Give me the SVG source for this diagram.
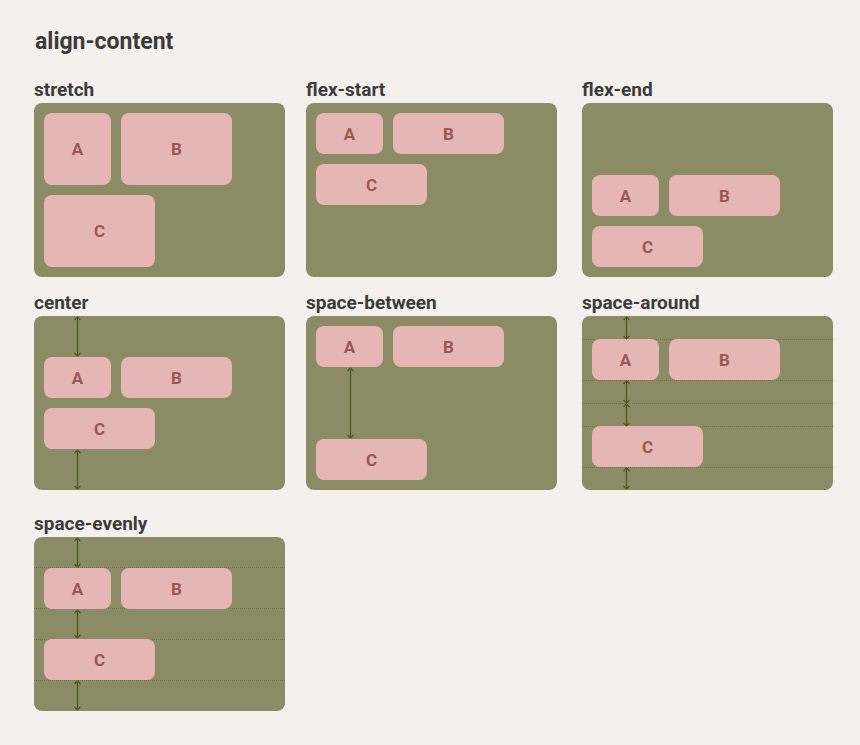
<svg xmlns="http://www.w3.org/2000/svg" width="860" height="745" viewBox="0 0 860 745">
<style>
.bg{fill:#f4f0ed}
.title{font-family:Roboto,"Liberation Sans",sans-serif;font-weight:bold;font-size:23px;fill:#3b3b3b}
.lbl{font-family:Roboto,"Liberation Sans",sans-serif;font-weight:bold;font-size:19px;fill:#3b3b3b}
.panel{fill:#8b8b65}
.item{fill:#e6b6b4}
.it{font-family:Roboto,"Liberation Sans",sans-serif;font-weight:bold;font-size:17px;fill:#9a5852;text-anchor:middle;dominant-baseline:central}
.guide{stroke:#6f744d;stroke-width:1;stroke-dasharray:1 1;fill:none}
.arr{stroke:#4a5720;stroke-width:1.2;fill:none;marker-start:url(#ah);marker-end:url(#ah)}
</style>
<defs>
<marker id="ah" viewBox="0 0 8 8" markerUnits="userSpaceOnUse" markerWidth="8" markerHeight="8" refX="5" refY="4" orient="auto-start-reverse">
<path d="M2,1 L5,4 L2,7" fill="none" stroke="#4a5720" stroke-width="1.2"/>
</marker>
</defs>
<rect class="bg" x="0" y="0" width="860" height="745"/>
<text class="title" x="35" y="49">align-content</text>

<g id="stretch">
<text class="lbl" x="34" y="96">stretch</text>
<rect class="panel" x="34" y="103" width="251" height="174" rx="8"/>
<rect class="item" x="44" y="113" width="67" height="72" rx="8"/>
<text class="it" x="77.5" y="149">A</text>
<rect class="item" x="121" y="113" width="111" height="72" rx="8"/>
<text class="it" x="176.5" y="149">B</text>
<rect class="item" x="44" y="195" width="111" height="72" rx="8"/>
<text class="it" x="99.5" y="231">C</text>
</g>

<g id="flex-start">
<text class="lbl" x="306" y="96">flex-start</text>
<rect class="panel" x="306" y="103" width="251" height="174" rx="8"/>
<rect class="item" x="316" y="113" width="67" height="41" rx="8"/>
<text class="it" x="349.5" y="133.5">A</text>
<rect class="item" x="393" y="113" width="111" height="41" rx="8"/>
<text class="it" x="448.5" y="133.5">B</text>
<rect class="item" x="316" y="164" width="111" height="41" rx="8"/>
<text class="it" x="371.5" y="184.5">C</text>
</g>

<g id="flex-end">
<text class="lbl" x="582" y="96">flex-end</text>
<rect class="panel" x="582" y="103" width="251" height="174" rx="8"/>
<rect class="item" x="592" y="175" width="67" height="41" rx="8"/>
<text class="it" x="625.5" y="195.5">A</text>
<rect class="item" x="669" y="175" width="111" height="41" rx="8"/>
<text class="it" x="724.5" y="195.5">B</text>
<rect class="item" x="592" y="226" width="111" height="41" rx="8"/>
<text class="it" x="647.5" y="246.5">C</text>
</g>

<g id="center">
<text class="lbl" x="34" y="309">center</text>
<rect class="panel" x="34" y="316" width="251" height="174" rx="8"/>
<rect class="item" x="44" y="357" width="67" height="41" rx="8"/>
<text class="it" x="77.5" y="377.5">A</text>
<rect class="item" x="121" y="357" width="111" height="41" rx="8"/>
<text class="it" x="176.5" y="377.5">B</text>
<rect class="item" x="44" y="408" width="111" height="41" rx="8"/>
<text class="it" x="99.5" y="428.5">C</text>
</g>

<g id="space-between">
<text class="lbl" x="306" y="309">space-between</text>
<rect class="panel" x="306" y="316" width="251" height="174" rx="8"/>
<rect class="item" x="316" y="326" width="67" height="41" rx="8"/>
<text class="it" x="349.5" y="346.5">A</text>
<rect class="item" x="393" y="326" width="111" height="41" rx="8"/>
<text class="it" x="448.5" y="346.5">B</text>
<rect class="item" x="316" y="439" width="111" height="41" rx="8"/>
<text class="it" x="371.5" y="459.5">C</text>
</g>

<g id="space-around">
<text class="lbl" x="582" y="309">space-around</text>
<rect class="panel" x="582" y="316" width="251" height="174" rx="8"/>
<path class="guide" d="M582,339.5H833M582,380.5H833M582,403.5H833M582,426.5H833M582,467.5H833"/>
<rect class="item" x="592" y="339" width="67" height="41" rx="8"/>
<text class="it" x="625.5" y="359.5">A</text>
<rect class="item" x="669" y="339" width="111" height="41" rx="8"/>
<text class="it" x="724.5" y="359.5">B</text>
<rect class="item" x="592" y="426" width="111" height="41" rx="8"/>
<text class="it" x="647.5" y="446.5">C</text>
</g>

<g id="space-evenly">
<text class="lbl" x="34" y="530">space-evenly</text>
<rect class="panel" x="34" y="537" width="251" height="174" rx="8"/>
<path class="guide" d="M34,567.5H285M34,608.5H285M34,639.5H285M34,680.5H285"/>
<rect class="item" x="44" y="568" width="67" height="41" rx="8"/>
<text class="it" x="77.5" y="588.5">A</text>
<rect class="item" x="121" y="568" width="111" height="41" rx="8"/>
<text class="it" x="176.5" y="588.5">B</text>
<rect class="item" x="44" y="639" width="111" height="41" rx="8"/>
<text class="it" x="99.5" y="659.5">C</text>
</g>

<g id="connectors">
<line class="arr" x1="77.5" y1="317" x2="77.5" y2="356"/>
<line class="arr" x1="77.5" y1="450" x2="77.5" y2="489"/>
<line class="arr" x1="350.5" y1="368" x2="350.5" y2="438"/>
<line class="arr" x1="626.5" y1="317" x2="626.5" y2="339"/>
<line class="arr" x1="626.5" y1="381" x2="626.5" y2="403"/>
<line class="arr" x1="626.5" y1="404" x2="626.5" y2="426"/>
<line class="arr" x1="626.5" y1="468" x2="626.5" y2="489"/>
<line class="arr" x1="77.5" y1="538" x2="77.5" y2="567"/>
<line class="arr" x1="77.5" y1="610" x2="77.5" y2="638"/>
<line class="arr" x1="77.5" y1="681" x2="77.5" y2="710"/>
</g>
</svg>
